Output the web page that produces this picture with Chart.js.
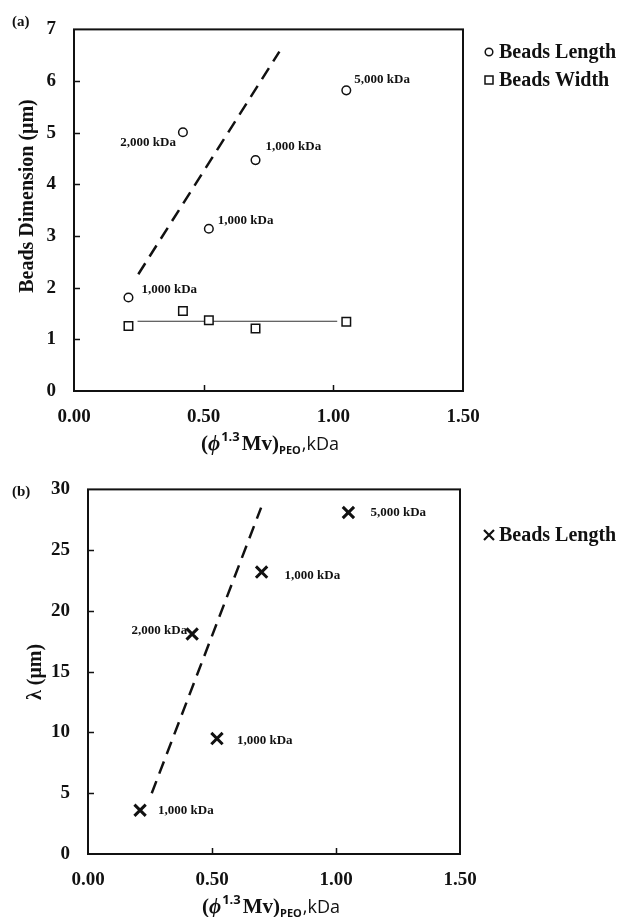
<!DOCTYPE html>
<html lang="en">
<head>
<meta charset="UTF-8">
<title>Beads dimension and spacing vs PEO</title>
<script src="https://cdn.jsdelivr.net/npm/chart.js"></script>
<style>
  body { margin: 0; background: #fff; }
  .panel { position: absolute; left: 0; }
  #panelA { top: 0; }
  #panelB { top: 460px; }
</style>
</head>
<body>
<div class="panel" id="panelA"><canvas id="chartA" width="621" height="460"></canvas></div>
<div class="panel" id="panelB"><canvas id="chartB" width="621" height="457"></canvas></div>

<script>
// x values: (phi^1.3 Mv)_PEO, kDa
const phiMv = [0.21, 0.42, 0.52, 0.70, 1.05];
const peoMass = ['1,000 kDa', '2,000 kDa', '1,000 kDa', '1,000 kDa', '5,000 kDa'];

// panel (a)
const beadsLength = [1.81, 5.01, 3.14, 4.47, 5.82];
const beadsWidth = [1.26, 1.55, 1.37, 1.21, 1.34];
const widthFitX = [0.245, 1.015];
const widthFitY = [1.35, 1.35];
const lengthTrendX = [0.248, 0.792];
const lengthTrendY = [2.26, 6.57];

// panel (b)
const lambda = [3.6, 18.1, 9.5, 23.2, 28.1];
const lambdaTrendX = [0.257, 0.698];
const lambdaTrendY = [5.0, 28.5];

// tick values
const xTicks = [0, 0.5, 1.0, 1.5];
const yTicksA = [0, 1, 2, 3, 4, 5, 6, 7];
const yTicksB = [0, 5, 10, 15, 20, 25, 30];

const INK = '#111';
const SERIF = "'Liberation Serif', 'Times New Roman', serif";
const SANS = "'Open Sans', 'Noto Sans', sans-serif";

const toPoints = (xs, ys) => xs.map((x, i) => ({ x: x, y: ys[i] }));

// draws the frame, inward ticks, axis titles, point labels and legend
function makeDecor(cfg) {
    return {
        id: 'decor',
        afterDraw(chart) {
            const { ctx, chartArea: a, scales: { x, y } } = chart;
            ctx.save();

            // inward tick marks
            ctx.strokeStyle = INK;
            ctx.lineWidth = 1.5;
            ctx.beginPath();
            y.ticks.forEach(t => {
                if (t.value === y.min || t.value === y.max) return;
                const py = Math.round(y.getPixelForValue(t.value)) + 0.5;
                ctx.moveTo(a.left, py);
                ctx.lineTo(a.left + 6, py);
            });
            x.ticks.forEach(t => {
                if (t.value === x.min || t.value === x.max) return;
                const px = Math.round(x.getPixelForValue(t.value)) + 0.5;
                ctx.moveTo(px, a.bottom);
                ctx.lineTo(px, a.bottom - 6);
            });
            ctx.stroke();

            // frame
            ctx.lineWidth = 2;
            ctx.strokeRect(a.left, a.top, a.right - a.left, a.bottom - a.top);

            ctx.fillStyle = INK;
            ctx.textBaseline = 'middle';

            // panel tag
            ctx.font = 'bold 15px ' + SERIF;
            ctx.textAlign = 'left';
            ctx.fillText(cfg.tag, 12, cfg.tagY);

            // point labels
            ctx.font = 'bold 13px ' + SERIF;
            const meta = chart.getDatasetMeta(cfg.labelDataset);
            meta.data.forEach((pt, i) => {
                const off = cfg.labelOffsets[i];
                ctx.textAlign = off[2];
                ctx.fillText(peoMass[i], pt.x + off[0], pt.y + off[1]);
            });

            // y title
            ctx.save();
            ctx.translate(cfg.yTitleX, cfg.yTitleY);
            ctx.rotate(-Math.PI / 2);
            ctx.textAlign = 'center';
            ctx.font = 'bold 20px ' + SERIF;
            ctx.fillText(cfg.yTitle, 0, 0);
            ctx.restore();

            // x title with super/subscripts
            const segs = [
                { t: '(', f: 'bold 21px ' + SERIF, dy: 0, gap: 0 },
                { t: '\u03D5', f: 'italic bold 21px ' + SERIF, dy: 0, gap: 1 },
                { t: '1.3', f: 'bold 13px ' + SANS, dy: -9, gap: 2 },
                { t: 'Mv)', f: 'bold 21px ' + SERIF, dy: 0, gap: 0 },
                { t: 'PEO', f: 'bold 11px ' + SANS, dy: 4, gap: 1 },
                { t: ',kDa', f: '18px ' + SANS, dy: 0, gap: 0 }
            ];
            ctx.textBaseline = 'alphabetic';
            ctx.textAlign = 'left';
            let total = 0;
            segs.forEach(s => { ctx.font = s.f; s.w = ctx.measureText(s.t).width; total += s.w + s.gap; });
            let cx = cfg.xTitleX - total / 2;
            segs.forEach(s => {
                ctx.font = s.f;
                ctx.fillText(s.t, cx, cfg.xTitleY + s.dy);
                cx += s.w + s.gap;
            });

            // legend
            ctx.textBaseline = 'middle';
            ctx.font = 'bold 20px ' + SERIF;
            cfg.legend.forEach(item => {
                const mx = 489, my = item.y;
                ctx.lineWidth = 1.5;
                ctx.strokeStyle = INK;
                ctx.beginPath();
                if (item.style === 'circle') {
                    ctx.arc(mx, my, 3.8, 0, Math.PI * 2);
                } else if (item.style === 'rect') {
                    ctx.rect(mx - 4, my - 4, 8, 8);
                } else {
                    ctx.lineWidth = 2.2;
                    ctx.moveTo(mx - 5, my - 5); ctx.lineTo(mx + 5, my + 5);
                    ctx.moveTo(mx - 5, my + 5); ctx.lineTo(mx + 5, my - 5);
                }
                ctx.stroke();
                ctx.fillText(item.text, mx + 10, my + 1);
            });

            ctx.restore();
        }
    };
}

function axes(yMin, yMax, yTicks, yWidth, xHeight) {
    return {
        x: {
            type: 'linear', min: 0, max: 1.5,
            afterBuildTicks: s => { s.ticks = xTicks.map(v => ({ value: v })); },
            afterFit: s => { s.height = xHeight; },
            grid: { display: false, drawTicks: false },
            border: { display: false },
            ticks: {
                padding: 15, color: INK,
                font: { family: SERIF, size: 19, weight: 'bold' },
                callback: v => v.toFixed(2)
            }
        },
        y: {
            type: 'linear', min: yMin, max: yMax,
            afterBuildTicks: s => { s.ticks = yTicks.map(v => ({ value: v })); },
            afterFit: s => { s.width = yWidth; },
            grid: { display: false, drawTicks: false },
            border: { display: false },
            ticks: {
                padding: 18, color: INK,
                font: { family: SERIF, size: 19, weight: 'bold' }
            }
        }
    };
}

const baseOpts = {
    responsive: false,
    devicePixelRatio: 1,
    animation: false,
    plugins: { legend: { display: false }, tooltip: { enabled: false } }
};

// panel (a)
new Chart(document.getElementById('chartA'), {
    type: 'scatter',
    data: {
        datasets: [
            {
                label: 'Beads Length',
                data: toPoints(phiMv, beadsLength),
                pointStyle: 'circle', pointRadius: 4.3,
                pointBorderWidth: 1.5, pointBorderColor: INK, pointBackgroundColor: '#fff'
            },
            {
                label: 'Beads Width',
                data: toPoints(phiMv, beadsWidth),
                pointStyle: 'rect', pointRadius: 6,
                pointBorderWidth: 1.5, pointBorderColor: INK, pointBackgroundColor: '#fff'
            },
            {
                label: 'Width fit',
                data: toPoints(widthFitX, widthFitY),
                showLine: true, pointRadius: 0, borderWidth: 1, borderColor: '#333'
            },
            {
                label: 'Length trend',
                data: toPoints(lengthTrendX, lengthTrendY),
                showLine: true, pointRadius: 0, borderWidth: 2.5, borderColor: INK,
                borderDash: [13, 8]
            }
        ]
    },
    options: Object.assign({}, baseOpts, {
        layout: { padding: { top: 19, right: 158, left: 0, bottom: 0 } },
        scales: axes(0, 7, yTicksA, 74, 69)
    }),
    plugins: [makeDecor({
        tag: '(a)', tagY: 22,
        labelDataset: 0,
        labelOffsets: [[13, -8, 'left'], [-7, 10, 'right'], [9, -8, 'left'], [10, -13, 'left'], [8, -11, 'left']],
        yTitle: 'Beads Dimension (\u03BCm)', yTitleX: 28, yTitleY: 196,
        xTitleX: 270, xTitleY: 450,
        legend: [
            { style: 'circle', text: 'Beads Length', y: 52 },
            { style: 'rect', text: 'Beads Width', y: 80 }
        ]
    })]
});

// panel (b)
new Chart(document.getElementById('chartB'), {
    type: 'scatter',
    data: {
        datasets: [
            {
                label: 'Beads Length',
                data: toPoints(phiMv, lambda),
                pointStyle: 'crossRot', pointRadius: 8,
                pointBorderWidth: 3, pointBorderColor: INK
            },
            {
                label: 'Lambda trend',
                data: toPoints(lambdaTrendX, lambdaTrendY),
                showLine: true, pointRadius: 0, borderWidth: 2.5, borderColor: INK,
                borderDash: [13, 8]
            }
        ]
    },
    options: Object.assign({}, baseOpts, {
        layout: { padding: { top: 29, right: 161, left: 0, bottom: 0 } },
        scales: axes(0, 30, yTicksB, 88, 63)
    }),
    plugins: [makeDecor({
        tag: '(b)', tagY: 32,
        labelDataset: 0,
        labelOffsets: [[18, 0, 'left'], [-5, -3, 'right'], [20, 2, 'left'], [23, 4, 'left'], [22, 0, 'left']],
        yTitle: '\u03BB (\u03BCm)', yTitleX: 36, yTitleY: 212,
        xTitleX: 271, xTitleY: 453,
        legend: [
            { style: 'cross', text: 'Beads Length', y: 75 }
        ]
    })]
});
</script>
</body>
</html>
